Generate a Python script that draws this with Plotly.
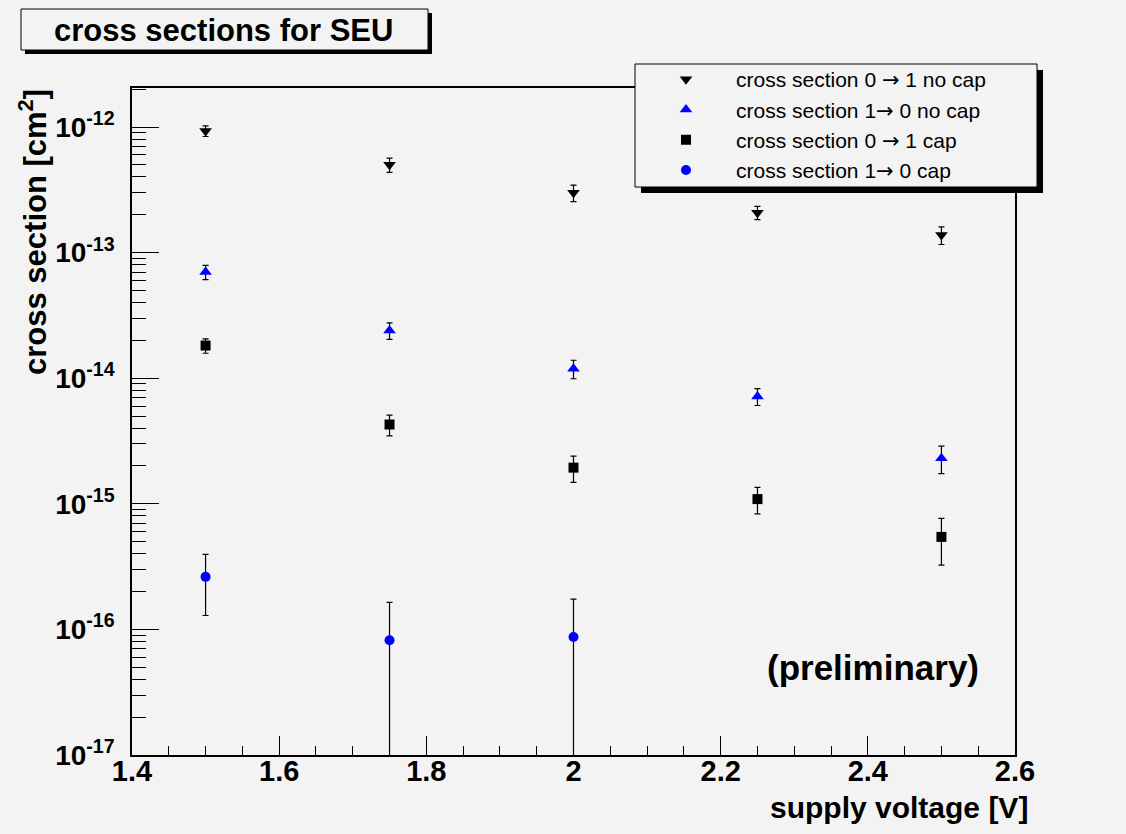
import plotly.graph_objects as go

# ---------------- data ----------------
voltage = [1.5, 1.75, 2.0, 2.25, 2.5]
xs01_nocap = [9.3e-13, 5.0e-13, 3.0e-13, 2.08e-13, 1.38e-13]
xs01_nocap_err = [0.9e-13, 0.65e-13, 0.45e-13, 0.25e-13, 0.22e-13]
xs10_nocap = [7.0e-14, 2.4e-14, 1.19e-14, 7.16e-15, 2.31e-15]
xs10_nocap_err = [0.9e-14, 0.36e-14, 0.2e-14, 1.1e-15, 0.57e-15]
xs01_cap = [1.82e-14, 4.28e-15, 1.94e-15, 1.09e-15, 5.45e-16]
xs01_cap_err = [0.24e-14, 0.8e-15, 0.46e-15, 0.26e-15, 0.22e-15]
voltage_10cap = [1.5, 1.75, 2.0]
xs10_cap = [2.62e-16, 8.2e-17, 8.7e-17]
xs10_cap_err = [1.33e-16, 8.2e-17, 8.7e-17]

ARROW = '<span style="font-family:DejaVu Sans">\u2192</span>'
series_names = ["cross section 0 " + ARROW + " 1 no cap", "cross section 1" + ARROW + " 0 no cap",
                "cross section 0 " + ARROW + " 1 cap", "cross section 1" + ARROW + " 0 cap"]

x_tickvals = [1.4, 1.6, 1.8, 2.0, 2.2, 2.4, 2.6]
x_ticktext = ["1.4", "1.6", "1.8", "2", "2.2", "2.4", "2.6"]
y_exponents = [-17, -16, -15, -14, -13, -12]

# ---------------- layout geometry ----------------
W, H = 1126, 834
L, R, T, B = 132, 1015, 88, 755
BG = "#f3f3f3"
FONT = "Liberation Sans, Arial, Helvetica, sans-serif"


def px(x):
    return (x - L) / (R - L)


def py(y):
    return (B - y) / (B - T)


y_top_log = -17 + (B - T) / 125.6

fig = go.Figure()

err_style = dict(type="data", color="black", thickness=1.2, width=3)

fig.add_trace(go.Scatter(x=voltage, y=xs01_nocap, mode="markers", name=series_names[0],
                         marker=dict(symbol="triangle-down", size=11, color="black", line=dict(width=0)),
                         error_y=dict(array=xs01_nocap_err, **err_style)))
fig.add_trace(go.Scatter(x=voltage, y=xs10_nocap, mode="markers", name=series_names[1],
                         marker=dict(symbol="triangle-up", size=11, color="blue", line=dict(width=0)),
                         error_y=dict(array=xs10_nocap_err, **err_style)))
fig.add_trace(go.Scatter(x=voltage, y=xs01_cap, mode="markers", name=series_names[2],
                         marker=dict(symbol="square", size=10, color="black", line=dict(width=0)),
                         error_y=dict(array=xs01_cap_err, **err_style)))
fig.add_trace(go.Scatter(x=voltage_10cap, y=xs10_cap, mode="markers", name=series_names[3],
                         marker=dict(symbol="circle", size=10, color="blue", line=dict(width=0)),
                         error_y=dict(array=xs10_cap_err, **err_style)))

minor_y = [k * 10.0 ** e for e in range(-17, -11) for k in range(2, 10)]

fig.update_xaxes(
    range=[1.4, 2.6], tickmode="array", tickvals=x_tickvals, ticktext=x_ticktext,
    ticks="inside", ticklen=19, tickwidth=1.2, tickcolor="black",
    minor=dict(dtick=0.05, tick0=1.4, ticks="inside", ticklen=9, tickwidth=1.2, tickcolor="black"),
    showline=True, linecolor="black", linewidth=1.5, mirror=True,
    showgrid=False, zeroline=False,
    tickfont=dict(family=FONT, size=29, color="black", weight="bold"),
    ticklabelstandoff=-11,
)
fig.update_yaxes(
    type="log", range=[-17, y_top_log], tickmode="array",
    tickvals=[10.0 ** e for e in y_exponents],
    ticktext=["10<sup>%d</sup>" % e for e in y_exponents],
    ticks="inside", ticklen=27, tickwidth=1.2, tickcolor="black",
    minor=dict(tickmode="array", tickvals=minor_y, ticks="inside", ticklen=14,
               tickwidth=1.2, tickcolor="black"),
    showline=True, linecolor="black", linewidth=1.5, mirror=True,
    showgrid=False, zeroline=False,
    tickfont=dict(family=FONT, size=28, color="black", weight="bold"),
    ticklabelstandoff=10,
)

shapes = [
    # title box shadow + box
    dict(type="rect", xref="paper", yref="paper", x0=px(25), x1=px(432), y0=py(54), y1=py(13),
         fillcolor="black", line=dict(width=0)),
    dict(type="rect", xref="paper", yref="paper", x0=px(21), x1=px(428), y0=py(50), y1=py(9),
         fillcolor=BG, line=dict(color="black", width=1)),
    # legend box shadow + box
    dict(type="rect", xref="paper", yref="paper", x0=px(641), x1=px(1043), y0=py(193), y1=py(70),
         fillcolor="black", line=dict(width=0)),
    dict(type="rect", xref="paper", yref="paper", x0=px(635), x1=px(1037), y0=py(187), y1=py(64),
         fillcolor=BG, line=dict(color="black", width=1)),
]

annotations = [
    dict(text="cross sections for SEU", xref="paper", yref="paper", x=px(223), y=py(30),
         xanchor="center", yanchor="middle", showarrow=False,
         font=dict(family=FONT, size=31, color="black", weight="bold")),
    dict(text="supply voltage [V]", xref="paper", yref="paper", x=px(1030), y=py(807),
         xanchor="right", yanchor="middle", showarrow=False,
         font=dict(family=FONT, size=30, color="black", weight="bold")),
    dict(text="cross section [cm<sup>2</sup>]", xref="paper", yref="paper", x=px(33), y=py(87),
         xanchor="center", yanchor="top", textangle=-90, showarrow=False,
         font=dict(family=FONT, size=31, color="black", weight="bold")),
    dict(text="(preliminary)", xref="paper", yref="paper", x=px(873), y=py(667),
         xanchor="center", yanchor="middle", showarrow=False,
         font=dict(family=FONT, size=35, color="black", weight="bold")),
]

fig.update_layout(
    width=W, height=H,
    margin=dict(l=L, r=W - R, t=T, b=H - B, pad=0),
    paper_bgcolor=BG, plot_bgcolor=BG,
    showlegend=True,
    legend=dict(x=px(636), y=py(59), xanchor="left", yanchor="top",
                bgcolor="rgba(0,0,0,0)", borderwidth=0, itemwidth=90,
                font=dict(family=FONT, size=21, color="black"),
                traceorder="normal"),
    shapes=shapes, annotations=annotations,
)

fig.write_html(
    "out.html",
    config={"displayModeBar": False},
    post_script="document.body.style.margin='0';document.body.style.background='%s';"
                "document.documentElement.style.overflow='hidden';" % BG,
)
